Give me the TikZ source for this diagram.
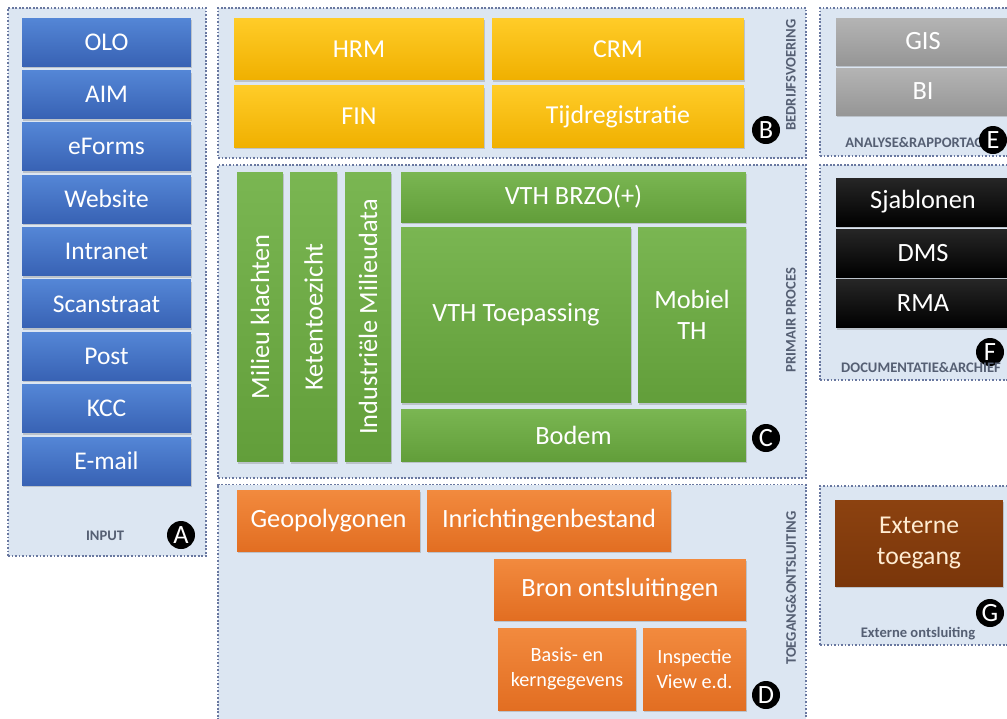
\documentclass[tikz,border=0pt]{standalone}
\usepackage{fontspec}
\setmainfont{Carlito}
\usetikzlibrary{positioning,shadows}
\definecolor{panelfill}{RGB}{220,230,242}
\definecolor{panelline}{RGB}{105,120,160}
\definecolor{capgray}{RGB}{85,95,115}
\definecolor{bluetop}{RGB}{84,134,214}
\definecolor{bluebot}{RGB}{56,98,180}
\definecolor{yeltop}{RGB}{255,204,40}
\definecolor{yelbot}{RGB}{240,176,0}
\definecolor{grntop}{RGB}{122,182,82}
\definecolor{grnbot}{RGB}{98,158,58}
\definecolor{oratop}{RGB}{242,138,62}
\definecolor{orabot}{RGB}{226,110,34}
\definecolor{graytop}{RGB}{180,180,180}
\definecolor{graybot}{RGB}{150,150,150}
\definecolor{browntop}{RGB}{140,66,16}
\definecolor{brownbot}{RGB}{122,54,10}
\definecolor{cream}{RGB}{255,236,210}

\begin{document}
\begin{tikzpicture}[x=0.02cm, y=-0.02cm,
  panel/.style={rectangle, draw=panelline, densely dotted, line width=1pt, fill=panelfill, inner sep=0},
  tile/.style={rectangle, inner sep=0, outer sep=0, text=white, align=center,
    drop shadow={opacity=0.35, shadow xshift=0.6pt, shadow yshift=-1.2pt}},
  inbox/.style={tile, top color=bluetop, bottom color=bluebot, minimum width=3.38cm, minimum height=0.96cm, font=\fontsize{14.5}{16}\selectfont},
  bizbox/.style={tile, top color=yeltop, bottom color=yelbot, minimum height=1.23cm, font=\fontsize{14.7}{17}\selectfont},
  procbox/.style={tile, top color=grntop, bottom color=grnbot, font=\fontsize{15}{18}\selectfont},
  accbox/.style={tile, top color=oratop, bottom color=orabot, font=\fontsize{15}{17}\selectfont},
  anabox/.style={tile, top color=graytop, bottom color=graybot, minimum width=3.48cm, minimum height=0.94cm, font=\fontsize{15}{17}\selectfont},
  docbox/.style={tile, top color=black!85, bottom color=black, minimum width=3.48cm, minimum height=0.96cm, font=\fontsize{15}{17}\selectfont},
  tag/.style={circle, fill=black, text=white, minimum size=0.56cm, inner sep=0, font=\fontsize{15}{15}\selectfont},
  caption/.style={text=capgray, inner sep=0, font=\fontsize{8.3}{9}\selectfont\bfseries}]
\useasboundingbox (0,0) rectangle (1007,718);
\clip (0,0) rectangle (1007,718);

% panels
\node[panel, minimum width=3.96cm, minimum height=10.96cm] (panA) at (107,282) {};
\node[panel, minimum width=11.76cm, minimum height=3.0cm] (panB) at (512,83) {};
\node[panel, minimum width=11.76cm, minimum height=6.26cm] (panC) at (512,321.5) {};
\node[panel, minimum width=11.76cm, minimum height=4.7cm] (panD) at (512,602) {};
\node[panel, minimum width=3.8cm, minimum height=2.96cm] (panE) at (915,82) {};
\node[panel, minimum width=3.8cm, minimum height=4.3cm] (panF) at (915,272.5) {};
\node[panel, minimum width=3.8cm, minimum height=3.18cm] (panG) at (915,565.5) {};

% A: input
\node[inbox] (olo) at (106.5,42) {OLO};
\node[inbox, below=0.088cm of olo] (aim) {AIM};
\node[inbox, below=0.088cm of aim] (eforms) {eForms};
\node[inbox, below=0.088cm of eforms] (website) {Website};
\node[inbox, below=0.088cm of website] (intranet) {Intranet};
\node[inbox, below=0.088cm of intranet] (scan) {Scanstraat};
\node[inbox, below=0.088cm of scan] (post) {Post};
\node[inbox, below=0.088cm of post] (kcc) {KCC};
\node[inbox, below=0.088cm of kcc] (email) {E-mail};
\node[caption] (capA) at (105,536) {INPUT};
\node[tag] (tagA) at (181,535) {A};

% B: bedrijfsvoering
\node[bizbox, minimum width=5.0cm] (hrm) at (359,49) {HRM};
\node[bizbox, minimum width=5.04cm] (crm) at (618,49) {CRM};
\node[bizbox, minimum width=5.0cm] (fin) at (359,116.5) {FIN};
\node[bizbox, minimum width=5.04cm] (tijd) at (618,116.5) {Tijdregistratie};
\node[caption, rotate=90] (capB) at (791,75) {BEDRIJFSVOERING};
\node[tag] (tagB) at (766,130) {B};

% C: primair proces
\node[procbox, rotate=90, minimum width=5.8cm, minimum height=0.92cm] (klacht) at (260,317) {Milieu klachten};
\node[procbox, rotate=90, minimum width=5.8cm, minimum height=0.94cm] (keten) at (313.5,317) {Ketentoezicht};
\node[procbox, rotate=90, minimum width=5.8cm, minimum height=0.92cm] (indus) at (368,317) {Industriële Milieudata};
\node[procbox, minimum width=6.9cm, minimum height=1.0cm] (brzo) at (573.5,197) {VTH BRZO(+)};
\node[procbox, minimum width=4.6cm, minimum height=3.52cm] (toep) at (516,315) {VTH Toepassing};
\node[procbox, minimum width=2.16cm, minimum height=3.52cm] (mobiel) at (692,315) {Mobiel\\TH};
\node[procbox, minimum width=6.9cm, minimum height=1.04cm] (bodem) at (573.5,435) {Bodem};
\node[caption, rotate=90] (capC) at (791,320) {PRIMAIR PROCES};
\node[tag] (tagC) at (766,438) {C};

% D: toegang & ontsluiting
\node[accbox, minimum width=3.66cm, minimum height=1.22cm] (geo) at (328.5,520.5) {Geopolygonen};
\node[accbox, minimum width=4.88cm, minimum height=1.22cm] (inricht) at (549,520.5) {Inrichtingenbestand};
\node[accbox, minimum width=5.04cm, minimum height=1.22cm] (bron) at (620,589.5) {Bron ontsluitingen};
\node[accbox, minimum width=2.76cm, minimum height=1.64cm, font=\fontsize{11.5}{14}\selectfont] (basis) at (567,669) {Basis- en\\kerngegevens};
\node[accbox, minimum width=2.06cm, minimum height=1.64cm, font=\fontsize{11.5}{14}\selectfont] (insp) at (694.5,669) {Inspectie\\View e.d.};
\node[caption, rotate=90] (capD) at (791,588) {TOEGANG\&ONTSLUITING};
\node[tag] (tagD) at (766,695) {D};

% E: analyse & rapportage
\node[anabox] (gis) at (923,41.5) {GIS};
\node[anabox] (bi) at (923,91.5) {BI};
\node[caption, anchor=west] (capE) at (845,143) {ANALYSE\&RAPPORTAGE};
\node[tag] (tagE) at (993,140) {E};

% F: documentatie & archief
\node[docbox] (sjab) at (923,202) {Sjablonen};
\node[docbox] (dms) at (923,253) {DMS};
\node[docbox] (rma) at (923,303.5) {RMA};
\node[tag] (tagF) at (990,352) {F};
\node[caption] (capF) at (921,368) {DOCUMENTATIE\&ARCHIEF};

% G: externe ontsluiting
\node[tile, top color=browntop, bottom color=brownbot, text=cream, minimum width=3.36cm, minimum height=1.72cm, font=\fontsize{14.6}{17.5}\selectfont] (extern) at (919,543) {Externe\\toegang};
\node[tag] (tagG) at (990,613) {G};
\node[caption] (capG) at (918,634) {Externe ontsluiting};
\end{tikzpicture}
\end{document}
